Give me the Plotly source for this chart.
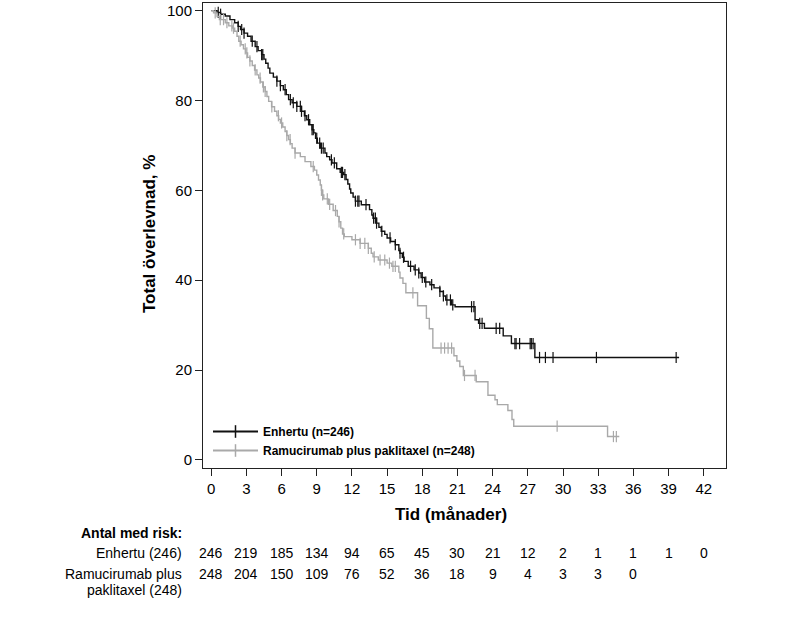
import numpy as np
import plotly.graph_objects as go

# Kaplan-Meier steps (time in months, survival in %)
enh_t = [0, 0.5, 0.8, 1.2, 1.6, 2.0, 2.3, 2.5, 2.8, 3.1, 3.4, 3.75, 4.0, 4.3, 4.5, 4.65,
         4.85, 5.0, 5.3, 5.6, 5.9, 6.15, 6.4, 6.6, 6.9, 7.3, 7.7, 7.95, 8.15, 8.4, 8.6,
         8.75, 8.9, 9.05, 9.3, 9.7, 9.85, 10.1, 10.3, 10.7, 11.0, 11.3, 11.5, 11.65, 11.8,
         11.9, 12.1, 12.3, 12.8, 13.5, 13.7, 13.8, 14.1, 14.3, 14.5, 14.8, 15.0, 15.3,
         15.7, 16.0, 16.1, 16.3, 16.45, 16.8, 17.3, 17.7, 17.9, 18.2, 18.65, 19.0, 19.5,
         19.8, 20.0, 20.5, 20.8, 22.5, 22.8, 23.3, 24.9, 25.6, 27.6, 39.9]
enh_s = [100, 99.6, 99.2, 98.8, 98.0, 97.3, 96.5, 95.8, 95.0, 94.3, 93.2, 92.0, 91.1, 90.2,
         89.2, 88.3, 87.2, 86.1, 85.2, 84.3, 83.3, 82.4, 81.3, 80.2, 79.5, 78.7, 77.6, 76.6,
         75.7, 74.6, 73.5, 72.8, 71.6, 70.5, 69.4, 68.3, 67.5, 66.8, 66.1, 64.8, 64.0, 63.5,
         62.4, 61.4, 60.3, 59.4, 58.5, 57.6, 56.8, 55.7, 54.5, 53.8, 52.7, 51.8, 50.9, 50.2,
         49.4, 48.6, 47.9, 46.6, 46.0, 45.1, 44.2, 43.1, 42.3, 41.6, 40.6, 39.6, 39.0, 38.3,
         37.5, 36.5, 35.6, 34.5, 34.1, 31.2, 30.4, 29.3, 27.6, 25.9, 22.8, 22.8]
enh_cens = [0.6, 0.8, 2.3, 2.6, 2.8, 3.5, 3.9, 4.3, 4.4, 5.6, 5.9, 6.3, 6.75, 7.0, 7.3, 7.6,
            7.7, 8.0, 8.3, 8.6, 8.7, 9.0, 9.25, 9.4, 9.55, 10.25, 10.5, 11.1, 11.2, 11.4,
            12.3, 12.5, 12.6, 13.2, 13.85, 14.0, 14.1, 14.55, 15.25, 15.7, 16.1, 16.4, 17.0,
            17.4, 17.7, 18.0, 18.3, 18.8, 19.5, 19.8, 20.1, 20.4, 20.6, 22.2, 22.4, 22.9,
            23.1, 24.3, 24.6, 25.9, 26.0, 26.3, 27.2, 27.3, 27.45, 28.0, 28.5, 29.15,
            32.85, 39.65]

ram_t = [0, 0.2, 0.5, 0.7, 1.2, 1.5, 1.8, 2.0, 2.2, 2.35, 2.55, 2.75, 2.95, 3.1, 3.3, 3.5,
         3.7, 3.9, 4.05, 4.2, 4.4, 4.6, 4.75, 4.9, 5.15, 5.4, 5.6, 5.75, 5.9, 6.1, 6.3, 6.45,
         6.6, 6.75, 6.9, 7.15, 7.6, 8.0, 8.5, 8.8, 9.0, 9.15, 9.3, 9.4, 9.5, 9.6, 10.0, 10.4,
         10.75, 10.9, 11.05, 11.2, 11.35, 12.0, 12.7, 13.4, 13.65, 13.8, 14.25, 15.0, 15.4,
         16.0, 16.1, 16.35, 16.6, 17.6, 18.35, 18.6, 18.9, 20.7, 20.95, 21.2, 21.5, 22.6,
         23.6, 24.2, 24.4, 25.3, 25.65, 25.8, 33.8, 34.8]
ram_s = [100, 99.5, 98.7, 98.0, 97.3, 96.6, 96.1, 95.4, 94.3, 93.2, 92.4, 91.5, 90.6, 89.6,
         88.8, 87.8, 86.8, 85.7, 85.0, 84.1, 83.0, 82.0, 80.9, 79.8, 78.6, 77.6, 76.6, 75.8,
         75.0, 74.1, 73.1, 72.2, 71.3, 70.4, 69.4, 68.3, 67.5, 66.4, 65.3, 64.5, 63.4, 62.3,
         61.2, 60.0, 59.0, 58.1, 56.9, 55.5, 54.2, 53.0, 51.6, 50.3, 49.7, 49.0, 48.2, 47.1,
         46.0, 45.2, 44.5, 43.8, 43.1, 41.8, 40.5, 39.3, 37.2, 34.3, 31.5, 29.2, 24.9, 23.2,
         22.0, 20.8, 18.8, 17.4, 14.4, 13.4, 12.3, 11.0, 9.0, 7.5, 5.2, 5.2]
ram_cens = [0.34, 0.77, 1.05, 1.34, 1.76, 1.9, 2.47, 2.9, 3.04, 3.3, 3.75, 4.17, 4.45, 4.6,
            5.17, 5.73, 6.0, 6.45, 6.73, 7.15, 8.7, 9.4, 9.5, 9.9, 10.1, 10.6, 10.9, 11.3,
            12.3, 12.7, 13.1, 13.4, 13.9, 14.4, 14.8, 15.2, 15.5, 15.7, 17.2, 19.6, 19.9,
            20.2, 20.5, 21.6, 22.5, 29.5, 34.3, 34.55]

# risk table
risk_months = [0, 3, 6, 9, 12, 15, 18, 21, 24, 27, 30, 33, 36, 39, 42]
enh_risk = [246, 219, 185, 134, 94, 65, 45, 30, 21, 12, 2, 1, 1, 1, 0]
ram_risk = [248, 204, 150, 109, 76, 52, 36, 18, 9, 4, 3, 3, 0]

BLACK = "#111111"
GRAY = "#a9a9a9"
FONT = "Liberation Sans, Arial, sans-serif"


def surv_at(times, steps_t, steps_s):
    idx = np.searchsorted(steps_t, times, side="right") - 1
    return np.array(steps_s)[idx]


fig = go.Figure()

for name, t, s, cens, col in [
    ("<b>Enhertu (n=246)</b>", enh_t, enh_s, enh_cens, BLACK),
    ("<b>Ramucirumab plus paklitaxel (n=248)</b>", ram_t, ram_s, ram_cens, GRAY),
]:
    fig.add_trace(go.Scatter(x=t, y=s, mode="lines", line=dict(color=col, width=1.4, shape="hv"),
                             showlegend=False, hoverinfo="skip"))
    fig.add_trace(go.Scatter(x=cens, y=surv_at(cens, t, s), mode="markers",
                             marker=dict(symbol="line-ns", size=8, line=dict(color=col, width=1.2)),
                             showlegend=False, hoverinfo="skip"))
    # legend entry
    fig.add_trace(go.Scatter(x=[None], y=[None], mode="lines+markers", name=name,
                             line=dict(color=col, width=2),
                             marker=dict(symbol="line-ns", size=9, line=dict(color=col, width=1.5))))

# plot area sits at page x 203-726, y 3-468
def py(px):
    return (468 - px) / 465


def pxr(px):
    return (px - 203) / 523


txt = dict(color="black", family=FONT)
ann = []
ann.append(dict(text="<b>Total överlevnad, %</b>", xref="paper", yref="paper", x=pxr(149),
                y=py(234), xanchor="center", yanchor="middle", textangle=-90, showarrow=False,
                font=dict(size=17, **txt)))
ann.append(dict(text="<b>Tid (månader)</b>", xref="paper", yref="paper", x=pxr(451), y=py(514),
                xanchor="center", yanchor="middle", showarrow=False, font=dict(size=17, **txt)))

lab_x = pxr(184)
for label, row, bold in [("Antal med risk:", 533, True), ("Enhertu (246)", 553, False),
                         ("Ramucirumab plus", 574, False), ("paklitaxel (248)", 590, False)]:
    ann.append(dict(text=f"<b>{label}</b>" if bold else label, xref="paper", yref="paper",
                    x=lab_x, y=py(row), xanchor="right", yanchor="middle", showarrow=False,
                    font=dict(size=14, **txt)))
for vals, row in [(enh_risk, 553), (ram_risk, 574)]:
    for m, v in zip(risk_months, vals):
        ann.append(dict(text=str(v), xref="x", yref="paper", x=m, y=py(row), xanchor="center",
                        yanchor="middle", showarrow=False, font=dict(size=14, **txt)))

fig.update_layout(
    width=812, height=628,
    margin=dict(l=203, r=86, t=3, b=160),
    plot_bgcolor="white", paper_bgcolor="white",
    font=dict(family=FONT, size=15, color="black"),
    xaxis=dict(range=[-0.7, 43.9], tickvals=risk_months, ticks="outside", ticklen=7,
               tickcolor="#222", showline=True, linecolor="#222", linewidth=1, mirror=True,
               showgrid=False, zeroline=False),
    yaxis=dict(range=[-1.8, 101.7], tickvals=[0, 20, 40, 60, 80, 100], ticks="outside",
               ticklen=7, tickcolor="#222", showline=True, linecolor="#222", linewidth=1,
               mirror=True, showgrid=False, zeroline=False, ticklabeloverflow="allow"),
    legend=dict(x=pxr(208), y=py(417), xanchor="left", yanchor="top", bgcolor="rgba(0,0,0,0)",
                font=dict(size=12, family=FONT), itemwidth=45, tracegroupgap=0),
    annotations=ann,
)

# drop the browser's default body margin so the figure sits at the page corner
fig.write_html("out.html", config={"displayModeBar": False},
               post_script="document.body.style.margin = '0';")
